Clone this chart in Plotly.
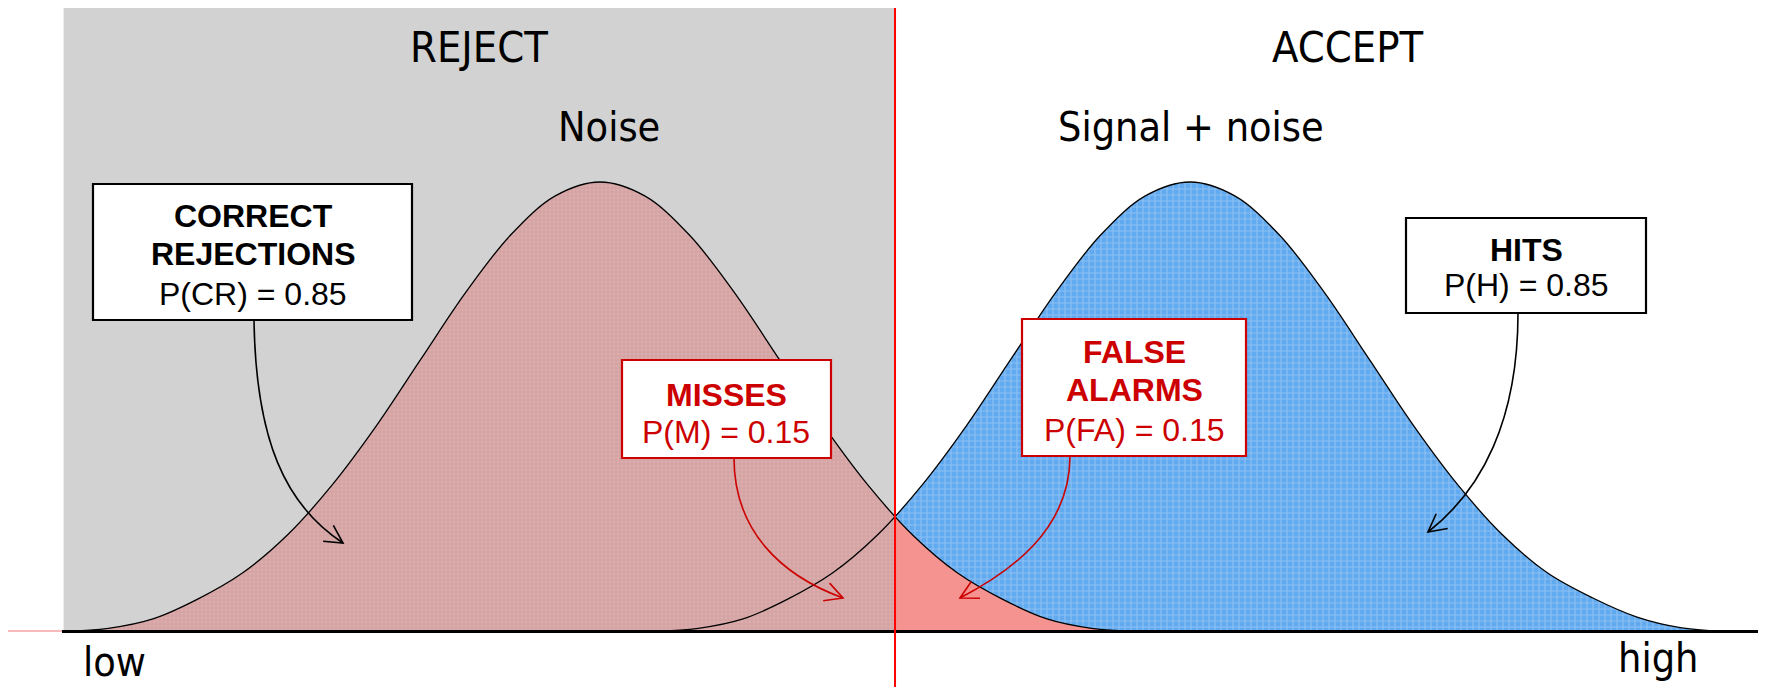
import plotly.graph_objects as go
import math

# decision axis, in SD units of the noise distribution (low -> high)
x_pts = [-3.0, -2.75, -2.5, -2.25, -2.0, -1.75, -1.5, -1.25, -1.0, -0.75, -0.5, -0.25,
         0.0, 0.25, 0.5, 0.75, 1.0, 1.25, 1.5, 1.75, 2.0, 2.25, 2.5, 2.75, 3.0]
# curve heights (peak = 1)
noise_h = [0.0, 0.007, 0.028, 0.072, 0.130, 0.214, 0.325, 0.458, 0.607, 0.755, 0.882, 0.969,
           1.0, 0.969, 0.882, 0.755, 0.607, 0.458, 0.325, 0.214, 0.130, 0.072, 0.028, 0.007, 0.0]
signal_h = [0.0, 0.007, 0.028, 0.072, 0.130, 0.214, 0.325, 0.458, 0.607, 0.755, 0.882, 0.969,
            1.0, 0.969, 0.882, 0.755, 0.607, 0.458, 0.325, 0.214, 0.130, 0.075, 0.032, 0.008, 0.0]
signal_shift = 3.3
criterion = 1.65
cross_h = 0.257

region_labels = ["REJECT", "ACCEPT"]
dist_labels = ["Noise", "Signal + noise"]
axis_labels = ["low", "high"]

signal_x = [x + signal_shift for x in x_pts]

# pieces of each curve either side of the criterion
nl_x = [x for x in x_pts if x < criterion] + [criterion]
nl_y = [h for x, h in zip(x_pts, noise_h) if x < criterion] + [cross_h]
nr_x = [criterion] + [x for x in x_pts if x > criterion]
nr_y = [cross_h] + [h for x, h in zip(x_pts, noise_h) if x > criterion]
sr_x = [criterion] + [x for x in signal_x if x > criterion]
sr_y = [cross_h] + [h for x, h in zip(signal_x, signal_h) if x > criterion]

W, H = 1779, 687
X0_PX, X_SCALE = 600, 178.8
Y0_PX, Y_SCALE = 631.5, 449.5
xr = [(0 - X0_PX) / X_SCALE, (W - X0_PX) / X_SCALE]
yr = [(Y0_PX - H) / Y_SCALE, Y0_PX / Y_SCALE]

fig = go.Figure()

fig.add_trace(go.Scatter(x=nl_x, y=nl_y, mode="lines", line=dict(width=0, shape="spline"),
                         fill="tozeroy", fillcolor="#d6a6a6",
                         fillpattern=dict(shape=".", size=4, solidity=0.25,
                                          bgcolor="#d5a5a5", fgcolor="#e6b6b6")))
fig.add_trace(go.Scatter(x=sr_x, y=sr_y, mode="lines", line=dict(width=0, shape="spline"),
                         fill="tozeroy", fillcolor="#66acf0",
                         fillpattern=dict(shape="+", size=6, solidity=0.35,
                                          bgcolor="#62aaf0", fgcolor="#b3d6f8")))
fig.add_trace(go.Scatter(x=nr_x, y=nr_y, mode="lines", line=dict(width=0, shape="spline"),
                         fill="tozeroy", fillcolor="#f4938f"))
fig.add_trace(go.Scatter(x=x_pts, y=noise_h, mode="lines",
                         line=dict(color="black", width=1.3, shape="spline")))
fig.add_trace(go.Scatter(x=signal_x, y=signal_h, mode="lines",
                         line=dict(color="black", width=1.3, shape="spline")))
# dummy trace so the pixel overlay axes exist
fig.add_trace(go.Scatter(x=[], y=[], xaxis="x2", yaxis="y2"))

shapes = []
# reject region background
shapes.append(dict(type="rect", xref="x", yref="y", x0=x_pts[0], x1=criterion,
                   y0=0, y1=(Y0_PX - 8) / Y_SCALE, fillcolor="#d2d2d2",
                   line=dict(width=0), layer="below"))
# baseline
shapes.append(dict(type="line", xref="x2", yref="y2", x0=8, x1=62, y0=631, y1=631,
                   line=dict(color="rgba(240,140,140,0.6)", width=2), layer="above"))
shapes.append(dict(type="line", xref="x2", yref="y2", x0=62, x1=1758, y0=631.5, y1=631.5,
                   line=dict(color="black", width=3), layer="above"))
# criterion
shapes.append(dict(type="line", xref="x", yref="paper", x0=criterion, x1=criterion,
                   y0=0, y1=1 - 8 / H, line=dict(color="#ff0000", width=2), layer="above"))

RED = "#cc0000"
boxes = [
    (93, 412, 184, 320, "black"),
    (622, 831, 360, 458, RED),
    (1022, 1246, 319, 456, RED),
    (1406, 1646, 218, 313, "black"),
]
for x0, x1, y0, y1, c in boxes:
    shapes.append(dict(type="rect", xref="x2", yref="y2", x0=x0, x1=x1, y0=y0, y1=y1,
                       fillcolor="white", line=dict(color=c, width=2.2), layer="above"))

arrows = [
    ((254, 321), (256, 440), (285, 505), (343, 543), "black"),
    ((734, 458), (734, 530), (780, 575), (843, 598), RED),
    ((1070, 456), (1070, 530), (1010, 572), (960, 598), RED),
    ((1518, 313), (1518, 420), (1482, 490), (1428, 532), "black"),
]
for p0, c1, c2, p3, c in arrows:
    path = "M %g,%g C %g,%g %g,%g %g,%g" % (p0 + c1 + c2 + p3)
    shapes.append(dict(type="path", xref="x2", yref="y2", path=path,
                       line=dict(color=c, width=1.6), layer="above"))
    dx, dy = p3[0] - c2[0], p3[1] - c2[1]
    n = math.hypot(dx, dy)
    ux, uy = dx / n, dy / n
    L, a = 20, math.radians(28)
    pts = []
    for s in (1, -1):
        rx = ux * math.cos(s * a) - uy * math.sin(s * a)
        ry = ux * math.sin(s * a) + uy * math.cos(s * a)
        pts.append((p3[0] - L * rx, p3[1] - L * ry))
    head = "M %g,%g L %g,%g L %g,%g" % (pts[0] + p3 + pts[1])
    shapes.append(dict(type="path", xref="x2", yref="y2", path=head,
                       line=dict(color=c, width=1.6), layer="above"))

BIG = "DejaVu Sans Condensed, DejaVu Sans"
BOX = "Liberation Sans, Arial"
ann = []


def label(x, y, text, size, font, color="black", bold=False):
    if bold:
        text = "<b>" + text + "</b>"
    ann.append(dict(x=x, y=y, xref="x2", yref="y2", text=text, showarrow=False,
                    xanchor="center", yanchor="middle",
                    font=dict(family=font, size=size, color=color)))


label(479, 47, region_labels[0], 43, BIG)
label(1348, 47, region_labels[1], 43, BIG)
label(609, 127, dist_labels[0], 41, BIG)
label(1191, 127, dist_labels[1], 41, BIG)
label(114, 662, axis_labels[0], 41, BIG)
label(1658, 658, axis_labels[1], 41, BIG)

label(253, 216, "CORRECT", 32, BOX, bold=True)
label(253, 254, "REJECTIONS", 32, BOX, bold=True)
label(253, 294, "P(CR) = 0.85", 32, BOX)
label(726, 395, "MISSES", 32, BOX, RED, bold=True)
label(726, 432, "P(M) = 0.15", 32, BOX, RED)
label(1134, 352, "FALSE", 32, BOX, RED, bold=True)
label(1134, 390, "ALARMS", 32, BOX, RED, bold=True)
label(1134, 430, "P(FA) = 0.15", 32, BOX, RED)
label(1526, 250, "HITS", 32, BOX, bold=True)
label(1526, 285, "P(H) = 0.85", 32, BOX)

fig.update_layout(
    width=W, height=H,
    margin=dict(l=0, r=0, t=0, b=0),
    paper_bgcolor="white", plot_bgcolor="white",
    showlegend=False,
    xaxis=dict(range=xr, visible=False, fixedrange=True),
    yaxis=dict(range=yr, visible=False, fixedrange=True),
    xaxis2=dict(range=[0, W], overlaying="x", visible=False, fixedrange=True),
    yaxis2=dict(range=[H, 0], overlaying="y", visible=False, fixedrange=True),
    shapes=shapes,
    annotations=ann,
)

fig.write_html("out.html", config={"displayModeBar": False},
               post_script="document.body.style.margin='0px';document.body.style.overflow='hidden';")
